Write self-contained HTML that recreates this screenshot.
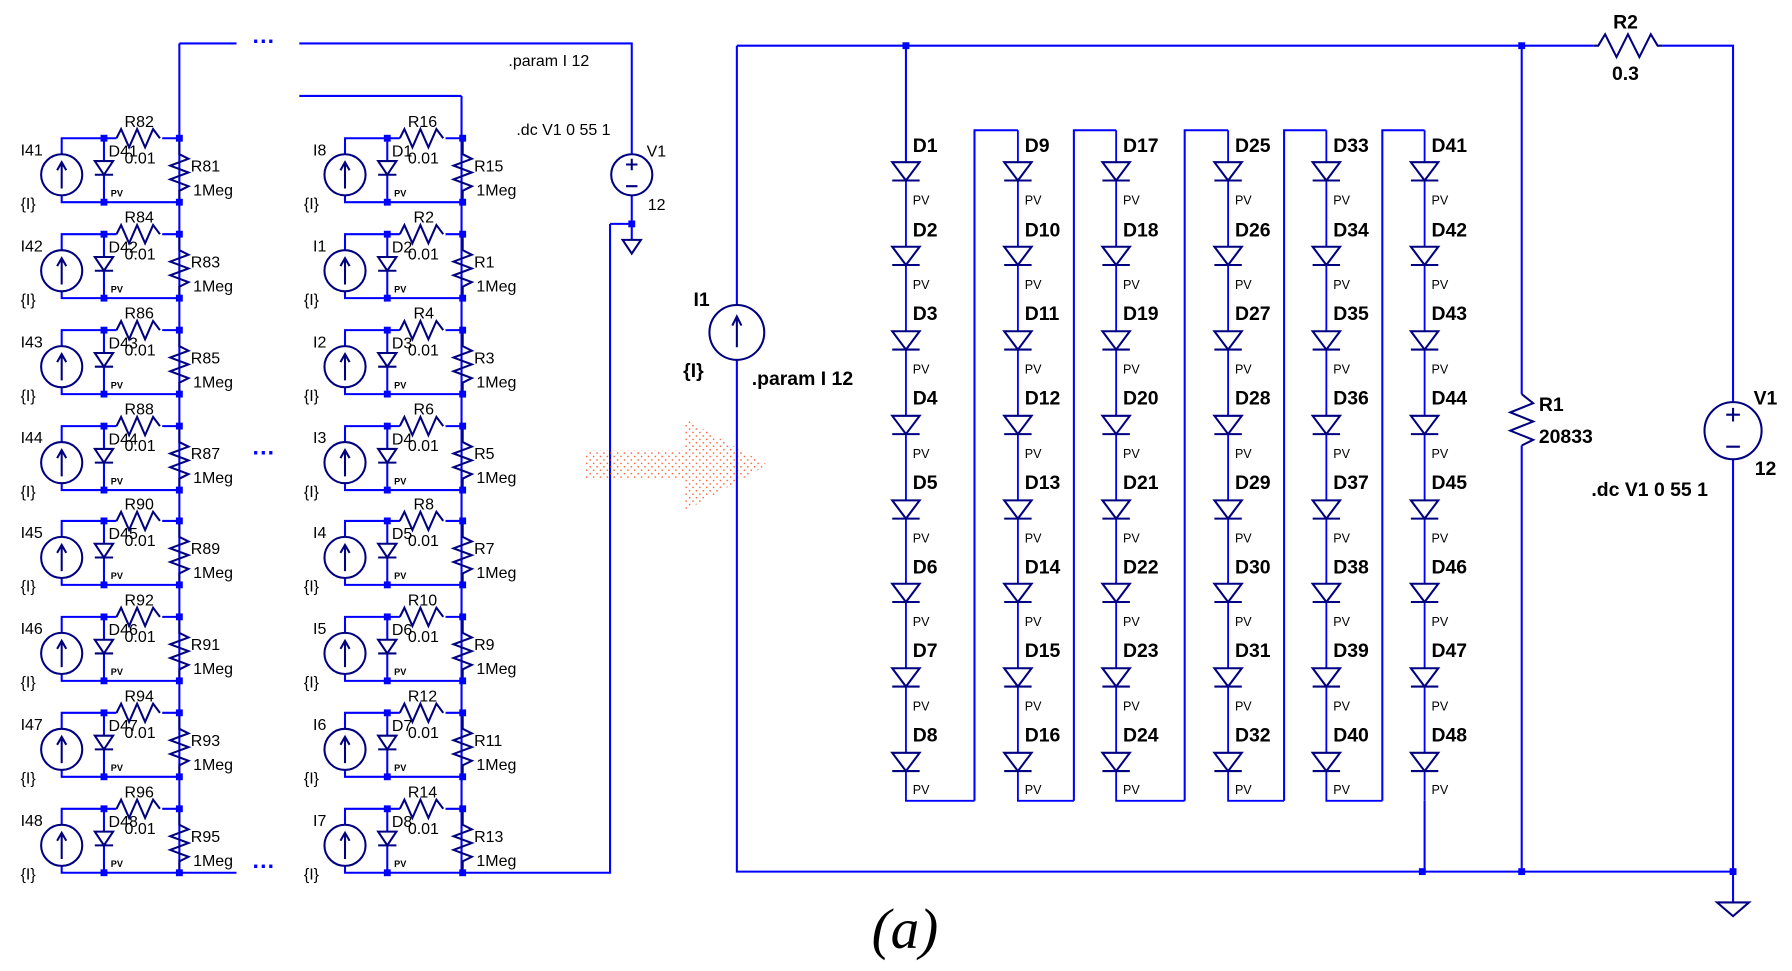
<!DOCTYPE html>
<html><head><meta charset="utf-8"><style>
html,body{margin:0;padding:0;background:#fff;}
svg{display:block;}
.w{stroke:#0000ff;stroke-width:1.8;fill:none;}
.c{stroke:#000080;stroke-width:1.8;fill:none;}
.t{font-family:"Liberation Sans",sans-serif;font-size:14px;fill:#000;}
.s{font-family:"Liberation Sans",sans-serif;font-size:8px;font-weight:bold;fill:#000;}
.b{font-family:"Liberation Sans",sans-serif;font-size:17px;font-weight:bold;fill:#000;}
.p{font-family:"Liberation Sans",sans-serif;font-size:11px;fill:#000;}
</style></head><body>
<svg width="1792" height="971" viewBox="0 0 1568.6 850" preserveAspectRatio="none" xmlns="http://www.w3.org/2000/svg">
<defs>
<pattern id="dots" width="6" height="6" patternUnits="userSpaceOnUse"><rect x="0" y="0" width="1.2" height="1.2" fill="#ff3300"/><rect x="3" y="3" width="1.2" height="1.2" fill="#ff3300"/></pattern>
<g id="cell">
 <path class="w" d="M0 14V0H37M37 0H48M88 0H103M0 50V56H103M37 0V20M37 32V56"/>
 <path class="c" d="M48 0l4-8 7 16 7-16 7 16 7-16 6 8"/>
 <circle class="c" cx="0" cy="32" r="18"/>
 <path class="c" d="M0 44V22M-4 28L0 21L4 28"/>
 <path class="c" d="M29 20H45L37 32Z M29 32H45"/>
 <path class="c" d="M103 0V14l8 4-16 6 16 6-16 6 16 6-8 4V56"/>
 <rect x="34" y="-3" width="6" height="6" fill="#0000ff"/><rect x="100" y="-3" width="6" height="6" fill="#0000ff"/>
 <rect x="34" y="53" width="6" height="6" fill="#0000ff"/><rect x="100" y="53" width="6" height="6" fill="#0000ff"/>
</g>
<g id="diode">
 <path class="c" d="M-12 -8H12L0 8Z M-12 8H12"/>
</g>
</defs>

<!-- left block wires -->
<path class="w" d="M157 38V764M157 38H207M262 38H553V135M553 171V196M534 196H553V210M534 196V764H404M404 84V764M262 84H404M157 764H207"/>
<path class="c" d="M545 210H561L553 222Z"/>
<rect x="550" y="193" width="6" height="6" fill="#0000ff"/>
<circle class="c" cx="553" cy="153" r="18"/>
<path class="c" d="M548 144H558M553 139V149M548 163H558"/>
<text class="b" x="221" y="43" style="font-size:20px;fill:#0000ff">···</text>
<text class="b" x="221" y="403" style="font-size:20px;fill:#0000ff">···</text>
<text class="b" x="221" y="765" style="font-size:20px;fill:#0000ff">···</text>
<text class="t" x="445" y="58">.param I 12</text>
<text class="t" x="452" y="118">.dc V1 0 55 1</text>
<text class="t" x="566" y="137">V1</text>
<text class="t" x="567" y="184">12</text>

<!-- cells col 1 -->
<use href="#cell" x="54" y="121"/><use href="#cell" x="54" y="205"/><use href="#cell" x="54" y="289"/><use href="#cell" x="54" y="373"/>
<use href="#cell" x="54" y="456"/><use href="#cell" x="54" y="540"/><use href="#cell" x="54" y="624"/><use href="#cell" x="54" y="708"/>
<use href="#cell" x="302" y="121"/><use href="#cell" x="302" y="205"/><use href="#cell" x="302" y="289"/><use href="#cell" x="302" y="373"/>
<use href="#cell" x="302" y="456"/><use href="#cell" x="302" y="540"/><use href="#cell" x="302" y="624"/><use href="#cell" x="302" y="708"/>

<g class="t">
<text x="18" y="136">I41</text><text x="18" y="183">{I}</text><text x="109" y="111">R82</text><text x="95" y="137">D41</text><text x="109" y="143">0.01</text><text x="167" y="150">R81</text><text x="169" y="171">1Meg</text>
<text x="18" y="220">I42</text><text x="18" y="267">{I}</text><text x="109" y="195">R84</text><text x="95" y="221">D42</text><text x="109" y="227">0.01</text><text x="167" y="234">R83</text><text x="169" y="255">1Meg</text>
<text x="18" y="304">I43</text><text x="18" y="351">{I}</text><text x="109" y="279">R86</text><text x="95" y="305">D43</text><text x="109" y="311">0.01</text><text x="167" y="318">R85</text><text x="169" y="339">1Meg</text>
<text x="18" y="388">I44</text><text x="18" y="435">{I}</text><text x="109" y="363">R88</text><text x="95" y="389">D44</text><text x="109" y="395">0.01</text><text x="167" y="402">R87</text><text x="169" y="423">1Meg</text>
<text x="18" y="471">I45</text><text x="18" y="518">{I}</text><text x="109" y="446">R90</text><text x="95" y="472">D45</text><text x="109" y="478">0.01</text><text x="167" y="485">R89</text><text x="169" y="506">1Meg</text>
<text x="18" y="555">I46</text><text x="18" y="602">{I}</text><text x="109" y="530">R92</text><text x="95" y="556">D46</text><text x="109" y="562">0.01</text><text x="167" y="569">R91</text><text x="169" y="590">1Meg</text>
<text x="18" y="639">I47</text><text x="18" y="686">{I}</text><text x="109" y="614">R94</text><text x="95" y="640">D47</text><text x="109" y="646">0.01</text><text x="167" y="653">R93</text><text x="169" y="674">1Meg</text>
<text x="18" y="723">I48</text><text x="18" y="770">{I}</text><text x="109" y="698">R96</text><text x="95" y="724">D48</text><text x="109" y="730">0.01</text><text x="167" y="737">R95</text><text x="169" y="758">1Meg</text>

<text x="274" y="136">I8</text><text x="266" y="183">{I}</text><text x="357" y="111">R16</text><text x="343" y="137">D1</text><text x="357" y="143">0.01</text><text x="415" y="150">R15</text><text x="417" y="171">1Meg</text>
<text x="274" y="220">I1</text><text x="266" y="267">{I}</text><text x="362" y="195">R2</text><text x="343" y="221">D2</text><text x="357" y="227">0.01</text><text x="415" y="234">R1</text><text x="417" y="255">1Meg</text>
<text x="274" y="304">I2</text><text x="266" y="351">{I}</text><text x="362" y="279">R4</text><text x="343" y="305">D3</text><text x="357" y="311">0.01</text><text x="415" y="318">R3</text><text x="417" y="339">1Meg</text>
<text x="274" y="388">I3</text><text x="266" y="435">{I}</text><text x="362" y="363">R6</text><text x="343" y="389">D4</text><text x="357" y="395">0.01</text><text x="415" y="402">R5</text><text x="417" y="423">1Meg</text>
<text x="274" y="471">I4</text><text x="266" y="518">{I}</text><text x="362" y="446">R8</text><text x="343" y="472">D5</text><text x="357" y="478">0.01</text><text x="415" y="485">R7</text><text x="417" y="506">1Meg</text>
<text x="274" y="555">I5</text><text x="266" y="602">{I}</text><text x="357" y="530">R10</text><text x="343" y="556">D6</text><text x="357" y="562">0.01</text><text x="415" y="569">R9</text><text x="417" y="590">1Meg</text>
<text x="274" y="639">I6</text><text x="266" y="686">{I}</text><text x="357" y="614">R12</text><text x="343" y="640">D7</text><text x="357" y="646">0.01</text><text x="415" y="653">R11</text><text x="417" y="674">1Meg</text>
<text x="274" y="723">I7</text><text x="266" y="770">{I}</text><text x="357" y="698">R14</text><text x="343" y="724">D8</text><text x="357" y="730">0.01</text><text x="415" y="737">R13</text><text x="417" y="758">1Meg</text>
</g>
<g class="s">
<text x="97" y="172">PV</text><text x="97" y="256">PV</text><text x="97" y="340">PV</text><text x="97" y="424">PV</text><text x="97" y="507">PV</text><text x="97" y="591">PV</text><text x="97" y="675">PV</text><text x="97" y="759">PV</text>
<text x="345" y="172">PV</text><text x="345" y="256">PV</text><text x="345" y="340">PV</text><text x="345" y="424">PV</text><text x="345" y="507">PV</text><text x="345" y="591">PV</text><text x="345" y="675">PV</text><text x="345" y="759">PV</text>
</g>

<!-- arrow -->
<path d="M512 394H600V367L672 407L600 447V420H512Z" fill="url(#dots)" opacity="0.85"/>

<!-- right circuit -->
<path class="w" d="M645 40H1395M1455 40H1517V352M1517 402V790M645 40V267M645 315V763H1517M1332 40V345M1332 390V763M793 40V142M853 701V114H891M940 701V114H977M1037 701V114H1075M1124 701V114H1161M1210 701V114H1247M1247 701V763"/>
<path class="w" d="M793 158V216M793 232V290M793 306V364M793 380V438M793 454V511M793 527V585M793 601V659M793 675V701H853
M891 114V142M891 158V216M891 232V290M891 306V364M891 380V438M891 454V511M891 527V585M891 601V659M891 675V701H940
M977 114V142M977 158V216M977 232V290M977 306V364M977 380V438M977 454V511M977 527V585M977 601V659M977 675V701H1037
M1075 114V142M1075 158V216M1075 232V290M1075 306V364M1075 380V438M1075 454V511M1075 527V585M1075 601V659M1075 675V701H1124
M1161 114V142M1161 158V216M1161 232V290M1161 306V364M1161 380V438M1161 454V511M1161 527V585M1161 601V659M1161 675V701H1210
M1247 114V142M1247 158V216M1247 232V290M1247 306V364M1247 380V438M1247 454V511M1247 527V585M1247 601V659M1247 675V701" style="stroke-width:1.6"/>
<g id="dcol">
<use href="#diode" x="793" y="150"/><use href="#diode" x="793" y="224"/><use href="#diode" x="793" y="298"/><use href="#diode" x="793" y="372"/><use href="#diode" x="793" y="446"/><use href="#diode" x="793" y="519"/><use href="#diode" x="793" y="593"/><use href="#diode" x="793" y="667"/>
</g>
<use href="#dcol" x="98"/><use href="#dcol" x="184"/><use href="#dcol" x="282"/><use href="#dcol" x="368"/><use href="#dcol" x="454"/>
<path class="c" d="M1395 40h4l6-10 10 20 10-20 10 20 10-20 6 10h4"/>
<path class="c" d="M1332 345l10 8-20 8 20 8-20 8 20 8-10 5"/>
<circle class="c" cx="645" cy="291" r="24"/>
<path class="c" d="M645 304V278M641 285L645 277L649 285"/>
<circle class="c" cx="1517" cy="377" r="25"/>
<path class="c" d="M1511 363H1523M1517 357V369M1511 391H1523"/>
<path class="c" d="M1503 790H1531L1517 802Z"/>
<rect x="790" y="37" width="6" height="6" fill="#0000ff"/><rect x="1329" y="37" width="6" height="6" fill="#0000ff"/>
<rect x="1242" y="760" width="6" height="6" fill="#0000ff"/><rect x="1329" y="760" width="6" height="6" fill="#0000ff"/><rect x="1514" y="760" width="6" height="6" fill="#0000ff"/>

<g class="b">
<text x="799" y="133">D1</text><text x="799" y="207">D2</text><text x="799" y="280">D3</text><text x="799" y="354">D4</text><text x="799" y="428">D5</text><text x="799" y="502">D6</text><text x="799" y="575">D7</text><text x="799" y="649">D8</text>
<text x="897" y="133">D9</text><text x="897" y="207">D10</text><text x="897" y="280">D11</text><text x="897" y="354">D12</text><text x="897" y="428">D13</text><text x="897" y="502">D14</text><text x="897" y="575">D15</text><text x="897" y="649">D16</text>
<text x="983" y="133">D17</text><text x="983" y="207">D18</text><text x="983" y="280">D19</text><text x="983" y="354">D20</text><text x="983" y="428">D21</text><text x="983" y="502">D22</text><text x="983" y="575">D23</text><text x="983" y="649">D24</text>
<text x="1081" y="133">D25</text><text x="1081" y="207">D26</text><text x="1081" y="280">D27</text><text x="1081" y="354">D28</text><text x="1081" y="428">D29</text><text x="1081" y="502">D30</text><text x="1081" y="575">D31</text><text x="1081" y="649">D32</text>
<text x="1167" y="133">D33</text><text x="1167" y="207">D34</text><text x="1167" y="280">D35</text><text x="1167" y="354">D36</text><text x="1167" y="428">D37</text><text x="1167" y="502">D38</text><text x="1167" y="575">D39</text><text x="1167" y="649">D40</text>
<text x="1253" y="133">D41</text><text x="1253" y="207">D42</text><text x="1253" y="280">D43</text><text x="1253" y="354">D44</text><text x="1253" y="428">D45</text><text x="1253" y="502">D46</text><text x="1253" y="575">D47</text><text x="1253" y="649">D48</text>
<text x="607" y="268">I1</text><text x="598" y="330">{I}</text><text x="658" y="337">.param I 12</text>
<text x="1412" y="25">R2</text><text x="1411" y="70">0.3</text>
<text x="1347" y="360">R1</text><text x="1347" y="388">20833</text>
<text x="1535" y="354">V1</text><text x="1536" y="416">12</text><text x="1393" y="434">.dc V1 0 55 1</text>
</g>
<g class="p">
<text x="799" y="179">PV</text><text x="799" y="253">PV</text><text x="799" y="327">PV</text><text x="799" y="401">PV</text><text x="799" y="475">PV</text><text x="799" y="548">PV</text><text x="799" y="622">PV</text><text x="799" y="695">PV</text>
<text x="897" y="179">PV</text><text x="897" y="253">PV</text><text x="897" y="327">PV</text><text x="897" y="401">PV</text><text x="897" y="475">PV</text><text x="897" y="548">PV</text><text x="897" y="622">PV</text><text x="897" y="695">PV</text>
<text x="983" y="179">PV</text><text x="983" y="253">PV</text><text x="983" y="327">PV</text><text x="983" y="401">PV</text><text x="983" y="475">PV</text><text x="983" y="548">PV</text><text x="983" y="622">PV</text><text x="983" y="695">PV</text>
<text x="1081" y="179">PV</text><text x="1081" y="253">PV</text><text x="1081" y="327">PV</text><text x="1081" y="401">PV</text><text x="1081" y="475">PV</text><text x="1081" y="548">PV</text><text x="1081" y="622">PV</text><text x="1081" y="695">PV</text>
<text x="1167" y="179">PV</text><text x="1167" y="253">PV</text><text x="1167" y="327">PV</text><text x="1167" y="401">PV</text><text x="1167" y="475">PV</text><text x="1167" y="548">PV</text><text x="1167" y="622">PV</text><text x="1167" y="695">PV</text>
<text x="1253" y="179">PV</text><text x="1253" y="253">PV</text><text x="1253" y="327">PV</text><text x="1253" y="401">PV</text><text x="1253" y="475">PV</text><text x="1253" y="548">PV</text><text x="1253" y="622">PV</text><text x="1253" y="695">PV</text>
</g>
<text x="763" y="830" style="font-family:'Liberation Serif',serif;font-style:italic;font-size:50px;fill:#000">(a)</text>
</svg>
</body></html>
